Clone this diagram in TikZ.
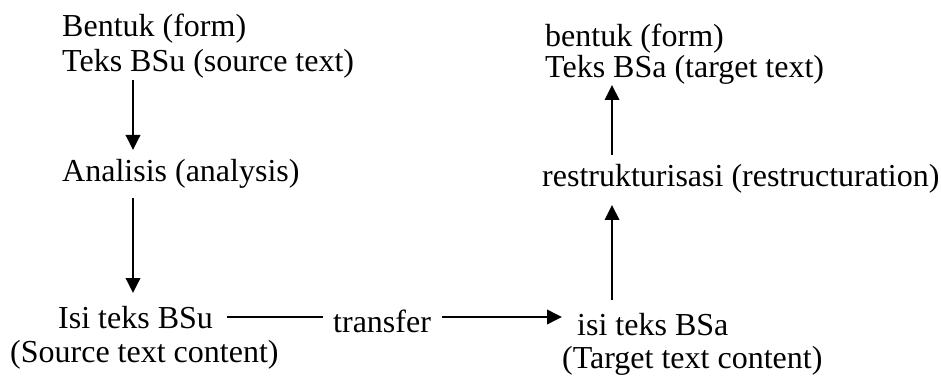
\documentclass[tikz,border=0pt]{standalone}
\usepackage{fontspec}
\setmainfont{Liberation Serif}
\usetikzlibrary{arrows.meta,calc}
\tikzset{
  lbl/.style={anchor=base west,inner sep=0pt,font=\fontsize{32}{38}\selectfont},
  arr/.style={line width=1.9pt,-{Triangle[length=15pt,width=14.5pt]}},
  ln/.style={line width=1.5pt}
}
\begin{document}
\begin{tikzpicture}[x=1pt,y=-1pt]
\useasboundingbox (0,0) rectangle (941,379);
% source side
\node[lbl] (f1) at (62,37) {Bentuk (form)};
\node[lbl] (t1) at (62,72) {Teks BSu (source text)};
\node[lbl] (an) at (62,182) {Analisis (analysis)};
\node[lbl] (is) at (58,328) {Isi teks BSu};
\node[lbl] (sc) at (10,362) {(Source text content)};
% transfer
\node[lbl] (tr) at (333,332) {transfer};
% target side
\node[lbl] (it) at (577,335) {isi teks BSa};
\node[lbl] (tc) at (562,368) {(Target text content)};
\node[lbl] (rs) at (542,187) {restrukturisasi (restructuration)};
\node[lbl] (f2) at (545,47) {bentuk (form)};
\node[lbl] (t2) at (545,78) {Teks BSa (target text)};
% connectors
\draw[arr] ($(t1.base west)+(71,8)$) -- ($(an.base west)+(71,-32)$);
\draw[arr] ($(an.base west)+(71,16)$) -- ($(is.base west)+(75,-35)$);
\draw[ln] ($(is.base west)+(169,-11)$) -- ($(tr.base west)+(-10,-15)$);
\draw[arr] ($(tr.base west)+(109,-15)$) -- ($(it.base west)+(-15,-18)$);
\draw[arr] ($(it.base west)+(35,-35)$) -- ($(rs.base west)+(70,18)$);
\draw[arr] ($(rs.base west)+(70,-32)$) -- ($(t2.base west)+(67,7)$);
\end{tikzpicture}
\end{document}
